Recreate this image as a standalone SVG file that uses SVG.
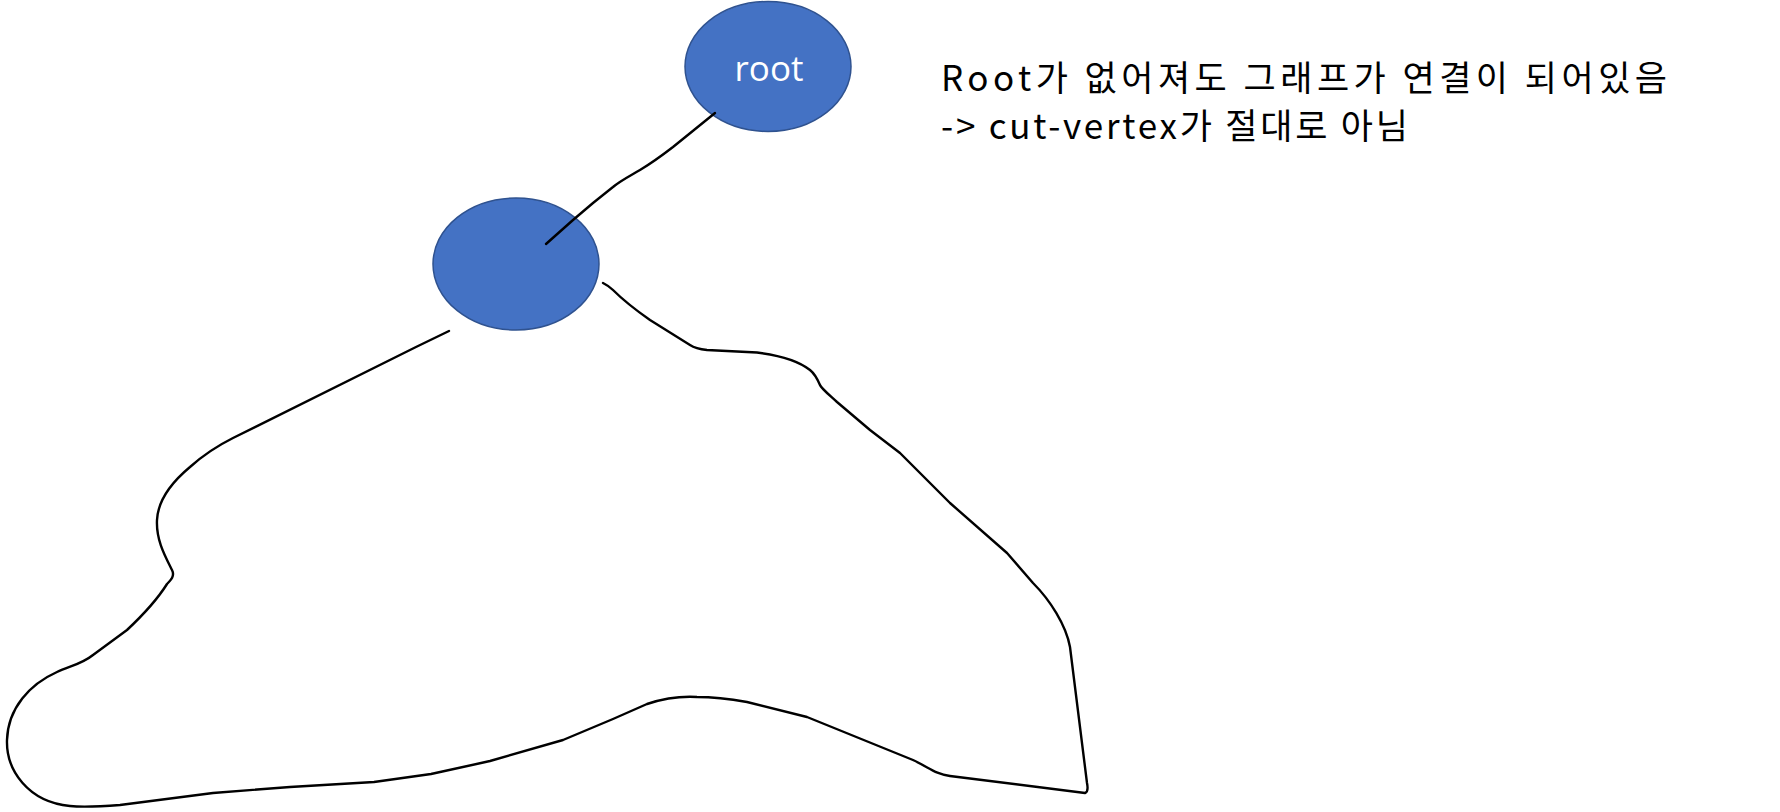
<svg xmlns="http://www.w3.org/2000/svg" width="1780" height="812" viewBox="0 0 1780 812">
  <style>
    .node { fill: #4472C4; stroke: #2F528F; stroke-width: 1.5; }
    .line { fill: none; stroke: #000000; stroke-width: 2.4; stroke-linecap: round; stroke-linejoin: round; }
    .label { font-family: "Open Sans", "Noto Sans", sans-serif; font-size: 35px; fill: #FFFFFF; }
    .note { font-family: "Noto Sans CJK KR", "Noto Sans", sans-serif; font-size: 35px; fill: #000000; }
  </style>
  <rect width="1780" height="812" fill="#FFFFFF"/>
  <g id="outline">
    <path class="line" d="M449,331 L416,347 L233,438 C215,447 200,458 190,467 C172,482 158,500 157,520 C156,540 165,556 172,570 C175,576 171,580 167,584 C157,600 143,615 127,630 L93,655 C82,664 70,666 57,672 C30,684 8,708 7,740 C6,770 28,802 70,806 C85,807.5 100,806.5 120,805 L213,793 L290,787 L374,782 L431,774 L490,761 L563,740 L613,719 L647,704 C665,698 680,696 697,697 C715,697 730,699 747,702 L807,717 L913,760 C930,768 935,774 950,776 L1085,793 C1088,792 1088,788 1087,783 L1070,647 C1066,625 1050,600 1033,583 L1007,553 L950,503 L900,453 L870,430 L837,402 C826,392 821,388 820,385 C817,378 815,374 810,370 C800,362 785,356 757,352.5 L707,350 C698,349 693,347 690,345 L650,320 C630,306 620,297 613,290 C610,287 607,285 603,283"/>
  </g>
  <g id="node-child">
    <ellipse class="node" cx="516" cy="264" rx="83" ry="66"/>
  </g>
  <g id="node-root">
    <ellipse class="node" cx="768" cy="66.5" rx="83" ry="65"/>
    <text class="label" x="769" y="81" text-anchor="middle">root</text>
  </g>
  <g id="connectors">
    <path class="line" d="M715,113 L673,147 C660,157 650,164 640,170 C628,177 620,181 613,187 L593,203 L573,220 L546,244"/>
  </g>
  <g id="note">
    <text class="note" x="941" y="91" textLength="726" lengthAdjust="spacing">Root가 없어져도 그래프가 연결이 되어있음</text>
    <text class="note" x="941" y="139" textLength="467" lengthAdjust="spacing">-&gt; cut-vertex가 절대로 아님</text>
  </g>
</svg>
